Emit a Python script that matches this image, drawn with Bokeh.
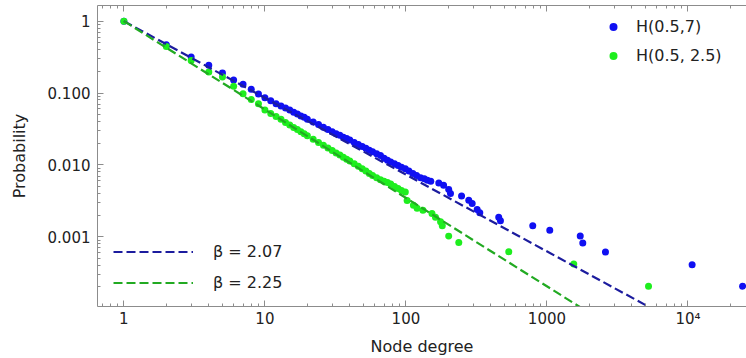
from bokeh.plotting import figure
from bokeh.models import FixedTicker, LogAxis, Legend, LegendItem, CustomJSTickFormatter
from bokeh.embed import file_html
from bokeh.resources import INLINE

# ---- data ----
blue_k = [1, 2, 3, 4, 5, 6, 7, 8, 9, 10, 11, 12, 13, 14, 15, 16, 17, 18, 19, 20,
          22, 24, 26, 28, 30, 32, 34, 36, 38, 40, 43, 46, 49, 52, 55, 58, 62, 66,
          70, 74, 78, 83, 88, 93, 99, 105, 112, 119, 127, 135, 142, 150,
          171, 185, 201, 207, 248, 279, 295, 320, 334, 455, 468, 793, 1047,
          1722, 1795, 2600, 10700, 24400]
blue_p = [1.0, 0.47, 0.316, 0.243, 0.19, 0.152, 0.132, 0.113, 0.097, 0.086, 0.078,
          0.071, 0.066, 0.062, 0.058, 0.054, 0.051, 0.048, 0.046, 0.043,
          0.0395, 0.0365, 0.0335, 0.031, 0.029, 0.0272, 0.0258, 0.0243, 0.0232,
          0.0222, 0.0205, 0.0192, 0.018, 0.0170, 0.0160, 0.0152, 0.0143, 0.0135,
          0.0124, 0.0116, 0.0110, 0.0104, 0.0098, 0.0093, 0.0088, 0.0082, 0.0076,
          0.0071, 0.0066, 0.0064, 0.0061, 0.0059,
          0.0056, 0.0052, 0.00455, 0.0040, 0.0037, 0.00323, 0.0029, 0.0024,
          0.00215, 0.00186, 0.00167, 0.00142, 0.00123,
          0.00102, 0.00082, 0.000612, 0.000408, 0.000205]

green_k = [1, 2, 3, 4, 5, 6, 7, 8, 9, 10, 11, 12, 13, 14, 15, 16, 17, 18, 19, 20,
           22, 24, 26, 28, 30, 32, 34, 36, 38, 40, 43, 46, 49, 52, 55, 58, 62, 66,
           70, 74, 78, 83, 88, 93, 99, 102, 113, 120, 132, 153, 162, 176, 181,
           201, 237, 536, 1549, 5250]
green_p = [1.0, 0.445, 0.284, 0.196, 0.167, 0.124, 0.098, 0.081, 0.071, 0.058,
           0.052, 0.047, 0.043, 0.039, 0.036, 0.033, 0.031, 0.029, 0.027, 0.0255,
           0.0228, 0.0205, 0.0188, 0.0172, 0.0158, 0.0146, 0.0137, 0.0128, 0.0120,
           0.0113, 0.0104, 0.0096, 0.0088, 0.0082, 0.0076, 0.0071, 0.0066, 0.0062,
           0.0059, 0.0057, 0.0054, 0.0050, 0.0047, 0.0044, 0.0042, 0.0032, 0.00275,
           0.0025, 0.00234, 0.00211, 0.00186, 0.00162, 0.00142,
           0.00102, 0.00083, 0.00062, 0.000418, 0.000205]

series_labels = ["H(0.5,7)", "H(0.5, 2.5)"]
fit_labels = ["β = 2.07", "β = 2.25"]
fit_slopes = [1.068, 1.23]          # slopes of the dashed lines as drawn
fit_k = [1, 30000]

x_ticks = [1, 10, 100, 1000, 10000]
x_tick_labels = ["1", "10", "100", "1000", "10⁴"]
y_ticks = [0.001, 0.01, 0.1, 1]
y_tick_labels = ["0.001", "0.010", "0.100", "1"]

x_minor = [0.7, 0.8, 0.9] + [m * 10 ** d for d in range(0, 5) for m in range(2, 10)]
y_minor = [m * 10.0 ** d for d in range(-4, 0) for m in range(2, 10)]

FONT = "DejaVu Sans"
TXT = "#222222"
AX = "#8c8c8c"

p = figure(width=746, height=358, x_axis_type="log", y_axis_type="log",
           x_range=(0.65, 26000), y_range=(1.07e-4, 1.65),
           output_backend="svg", toolbar_location=None,
           min_border_left=97, min_border_right=0, min_border_top=5,
           min_border_bottom=51)
p.outline_line_color = None
p.grid.visible = False
p.background_fill_color = "white"
p.border_fill_color = "white"

# points
r_blue = p.scatter(blue_k, blue_p, size=7, color="#1010f2", line_color=None)
r_green = p.scatter(green_k, green_p, size=7, color="#1eee1e", line_color=None)

# dashed power-law lines through (1, 1)
fit_colors = ["#1c1c9e", "#22aa22"]
fit_rs = []
for s, c in zip(fit_slopes, fit_colors):
    fy = [k ** (-s) for k in fit_k]
    fit_rs.append(p.line(fit_k, fy, line_color=c, line_width=2.2, line_dash="9 4"))

xfmt = CustomJSTickFormatter(args=dict(labels=dict(zip([str(t) for t in x_ticks], x_tick_labels))),
                             code="const s = labels[String(tick)]; return s === undefined ? '' : s;")
yfmt = CustomJSTickFormatter(args=dict(labels=dict(zip([str(t) for t in y_ticks], y_tick_labels))),
                             code="const s = labels[String(tick)]; return s === undefined ? '' : s;")

def style(ax):
    ax.axis_line_color = AX
    ax.major_tick_line_color = AX
    ax.minor_tick_line_color = AX
    ax.major_tick_in = 6
    ax.major_tick_out = 0
    ax.minor_tick_in = 3
    ax.minor_tick_out = 0
    ax.major_label_text_font = FONT
    ax.major_label_text_font_size = "15px"
    ax.major_label_text_color = TXT
    ax.axis_label_text_font = FONT
    ax.axis_label_text_font_style = "normal"
    ax.axis_label_text_font_size = "16px"
    ax.axis_label_text_color = TXT

xa = p.xaxis[0]
xa.ticker = FixedTicker(ticks=x_ticks, minor_ticks=x_minor)
xa.formatter = xfmt
style(xa)
xa.axis_label = "Node degree"
xa.major_label_standoff = 3
xa.axis_label_standoff = 6

ya = p.yaxis[0]
ya.ticker = FixedTicker(ticks=y_ticks, minor_ticks=y_minor)
ya.formatter = yfmt
style(ya)
ya.axis_label = "Probability"
ya.major_label_standoff = 7
ya.axis_label_standoff = 16

top = LogAxis(ticker=FixedTicker(ticks=x_ticks, minor_ticks=x_minor),
              formatter=CustomJSTickFormatter(code="return '';"))
style(top)
top.major_label_standoff = 0
top.major_label_text_font_size = "0px"
p.add_layout(top, "above")

leg1 = Legend(items=[LegendItem(label=series_labels[0], renderers=[r_blue]),
                     LegendItem(label=series_labels[1], renderers=[r_green])],
              location=(506, 237), padding=5, spacing=2, glyph_width=20,
              glyph_height=27, label_height=27, label_standoff=13,
              label_text_font=FONT, label_text_font_size="16px",
              label_text_color=TXT, border_line_color=None,
              background_fill_alpha=0)
leg2 = Legend(items=[LegendItem(label=fit_labels[0], renderers=[fit_rs[0]]),
                     LegendItem(label=fit_labels[1], renderers=[fit_rs[1]])],
              location=(16, 10), padding=5, spacing=4, glyph_width=80,
              glyph_height=27, label_height=27, label_standoff=20,
              label_text_font=FONT, label_text_font_size="16px",
              label_text_color=TXT, border_line_color=None,
              background_fill_alpha=0)
p.add_layout(leg1)
p.add_layout(leg2)

open("out.html", "w").write(file_html(p, INLINE))
